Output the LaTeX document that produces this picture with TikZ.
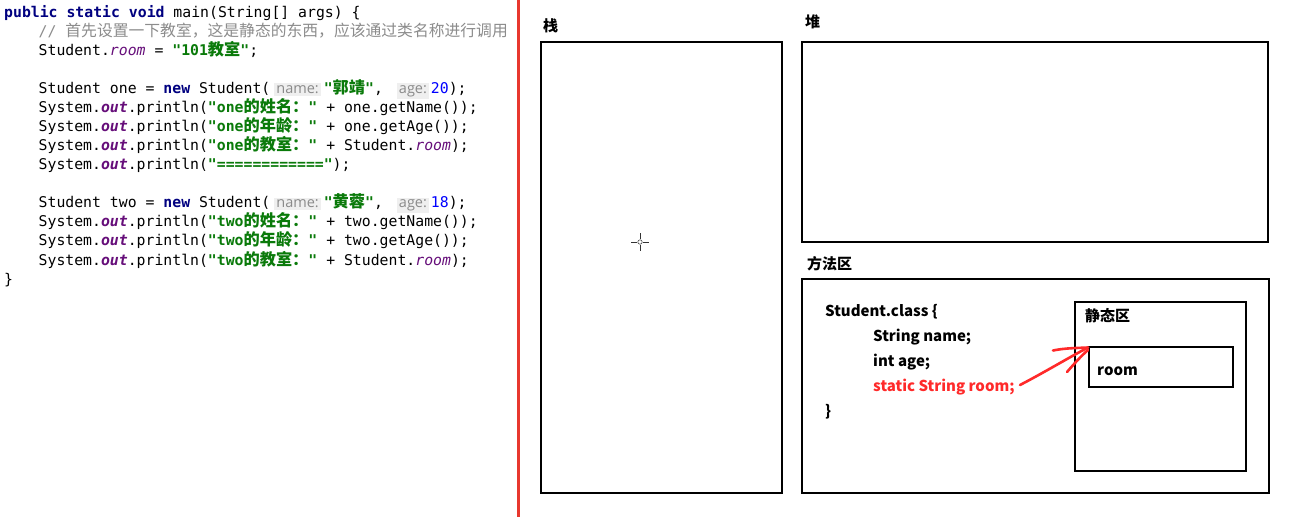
\documentclass[tikz,border=0pt]{standalone}
\usepackage{fontspec}
\setmonofont{DejaVu Sans Mono}
\newfontfamily\cjk{Noto Sans CJK SC}
\newfontfamily\hintfont{Open Sans}
\definecolor{kwc}{HTML}{000080}
\definecolor{strc}{HTML}{0A7A0A}
\definecolor{fldc}{HTML}{660E7A}
\definecolor{numc}{HTML}{0000FF}
\definecolor{cmtc}{HTML}{8C8C8C}
\definecolor{hintbg}{HTML}{EFEFEF}
\definecolor{hintfg}{HTML}{8A8A8A}
\definecolor{divred}{HTML}{E8382E}
\definecolor{penred}{HTML}{FF2A2A}
\newcommand\kw[1]{{\color{kwc}\bfseries #1}}
\newcommand\jstr[1]{{\color{strc}\bfseries #1}}
\newcommand\zh[1]{{\fontsize{16.2}{18}\cjk\bfseries #1}}
\newcommand\fldit[1]{{\color{fldc}\itshape #1}}
\newcommand\fldout{{\color{fldc}\bfseries\itshape out}}
\newcommand\jnum[1]{{\color{numc}#1}}
\newcommand\hint[1]{{\setlength{\fboxsep}{2pt}\colorbox{hintbg}{\color{hintfg}\hintfont\fontsize{14.5}{16}\selectfont #1}}}
\tikzset{
  codeline/.style={anchor=base west, inner sep=0pt, font=\ttfamily\fontsize{14.8}{18}\selectfont},
  region/.style={draw=black, line width=2.6pt},
  zhlabel/.style={anchor=base west, inner sep=0pt, font=\fontsize{15}{18}\cjk\bfseries},
  classtext/.style={anchor=base west, inner sep=0pt, font=\fontsize{15}{18}\cjk\bfseries},
  pen/.style={draw=penred, line width=2.6pt, line cap=round, line join=round}
}
\begin{document}
\begin{tikzpicture}[x=1pt,y=-1pt]
\useasboundingbox (0,0) rectangle (1304,517);
\fill[white] (0,0) rectangle (1304,517);
% ---------- code ----------
\node[codeline] (l1) at (4,17) {\kw{public static void} main(String[] args) \{};
\node[codeline] (l2) at (38.5,36.1) {{\color{cmtc}// {\fontsize{15.8}{18}\cjk 首先设置一下教室，这是静态的东西，应该通过类名称进行调用}}};
\node[codeline] (l3) at (38.5,55.1) {Student.\fldit{room} = \jstr{"101\zh{教室}"};};
\node[codeline] (l5) at (38.5,93.3) {Student one = \kw{new} Student(\hspace{4pt}\hint{name:}\hspace{3pt}\jstr{"\zh{郭靖}"},\hspace{14pt}\hint{age:}\hspace{2pt}\jnum{20});};
\node[codeline] (l6) at (38.5,112.3) {System.\fldout.println(\jstr{"one\zh{的姓名：}"} + one.getName());};
\node[codeline] (l7) at (38.5,131.4) {System.\fldout.println(\jstr{"one\zh{的年龄：}"} + one.getAge());};
\node[codeline] (l8) at (38.5,150.5) {System.\fldout.println(\jstr{"one\zh{的教室：}"} + Student.\fldit{room});};
\node[codeline] (l9) at (38.5,169.6) {System.\fldout.println(\jstr{"============"});};
\node[codeline] (l11) at (38.5,207.7) {Student two = \kw{new} Student(\hspace{4pt}\hint{name:}\hspace{3pt}\jstr{"\zh{黄蓉}"},\hspace{14pt}\hint{age:}\hspace{2pt}\jnum{18});};
\node[codeline] (l12) at (38.5,226.8) {System.\fldout.println(\jstr{"two\zh{的姓名：}"} + two.getName());};
\node[codeline] (l13) at (38.5,245.9) {System.\fldout.println(\jstr{"two\zh{的年龄：}"} + two.getAge());};
\node[codeline] (l14) at (38.5,265.0) {System.\fldout.println(\jstr{"two\zh{的教室：}"} + Student.\fldit{room});};
\node[codeline] (l15) at (4,284.1) {\}};
% ---------- divider ----------
\draw[divred, line width=3pt] (518.5,0) -- (518.5,517);
% ---------- regions ----------
\node[zhlabel] (stacklbl) at (543,31) {栈};
\draw[region] (541,42) rectangle (782,493);
\node[zhlabel] (heaplbl) at (805,27.5) {堆};
\draw[region] (802,42) rectangle (1268,242);
\node[zhlabel] (methodlbl) at (807,269) {方法区};
\draw[region] (802,279) rectangle (1269,493);
\node[zhlabel] (staticlbl) at (1085,321) {静态区};
\draw[region] (1075,302) rectangle (1246,471);
\node[classtext] (roomtxt) at (1097,375) {room};
\draw[region] (1089,347) rectangle (1233,387);
% ---------- class text ----------
\node[classtext] (c1) at (825,316.5) {Student.class \{};
\node[classtext] (c2) at (873,341.5) {String name;};
\node[classtext] (c3) at (873,366.5) {int age;};
\node[classtext, text=penred] (c4) at (873,391.5) {static String room;};
\node[classtext] (c5) at (825,416) {\}};
% ---------- hand-drawn arrow ----------
\coordinate (tip) at (1088,347.5);
\draw[pen] (1020,385) .. controls (1045,372) and (1068,358) .. (tip);
\draw[pen] (1053,350.5) .. controls (1065,348) and (1078,348) .. (tip);
\draw[pen] (1067,372) .. controls (1074,364) and (1081,356) .. (1088,350);
% ---------- cursor ----------
\draw[black!80, line width=1pt] (640,233) -- (640,239) (640,245) -- (640,251)
  (631,242) -- (637,242) (643,242) -- (649,242);
\draw[black!70, line width=0.6pt] (640,242) circle (2.2pt);
\end{tikzpicture}
\end{document}
